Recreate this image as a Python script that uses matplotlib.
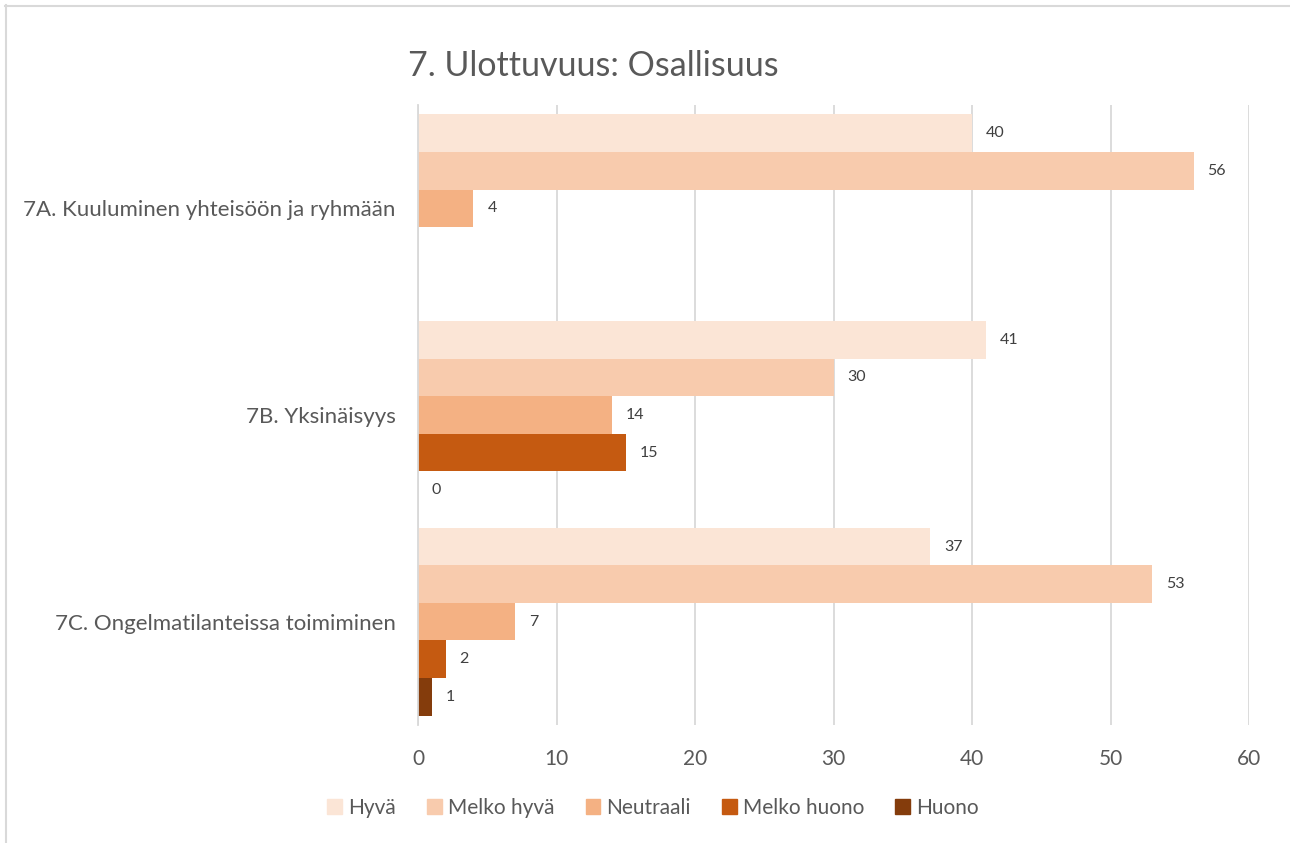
import matplotlib
matplotlib.use("Agg")
import matplotlib.pyplot as plt
from matplotlib.lines import Line2D
import numpy as np

categories = ["7A. Kuuluminen yhteisöön ja ryhmään", "7B. Yksinäisyys", "7C. Ongelmatilanteissa toimiminen"]
series_names = ["Hyvä", "Melko hyvä", "Neutraali", "Melko huono", "Huono"]
hyva = [40, 41, 37]
melko_hyva = [56, 30, 53]
neutraali = [4, 14, 7]
melko_huono = [None, 15, 2]
huono = [None, 0, 1]
series_values = [hyva, melko_hyva, neutraali, melko_huono, huono]
colors = ["#FBE5D6", "#F8CBAD", "#F4B183", "#C55A11", "#843C0C"]
xticks = [0, 10, 20, 30, 40, 50, 60]

plt.rcParams['font.family'] = ['Lato', 'DejaVu Sans']
txt = "#595959"

fig = plt.figure(figsize=(12.9, 8.43), dpi=100)
ax = fig.add_axes([418/1290, 1 - 725/843, (1249-418)/1290, (725-105)/843])

n = len(series_names)
h = 1 / (n + 0.5)
y = np.arange(len(categories))
for j, (name, vals, c) in enumerate(zip(series_names, series_values, colors)):
    for i, v in enumerate(vals):
        if v is None:
            continue
        yy = y[i] + (j - (n - 1) / 2) * h
        ax.barh(yy, v, height=h, color=c, edgecolor='none', zorder=2)
        ax.annotate(str(v), (v, yy), xytext=(14, 0), textcoords='offset pixels',
                    va='center', ha='left', fontsize=11.5, color="#404040")

ax.set_ylim(len(categories) - 0.5, -0.5)
ax.set_xlim(0, 60)
ax.set_xticks(xticks)
ax.set_xticklabels([str(t) for t in xticks], fontsize=15, color=txt)
ax.set_yticks(y)
ax.set_yticklabels(categories, fontsize=16, color=txt)
ax.tick_params(axis='both', length=0)
ax.tick_params(axis='x', pad=17)
ax.tick_params(axis='y', pad=16)
ax.grid(axis='x', color='#D9D9D9', linewidth=1.3, zorder=0)
ax.set_axisbelow(True)
for s in ['top', 'right', 'bottom']:
    ax.spines[s].set_visible(False)
ax.spines['left'].set_color('#D9D9D9')
ax.spines['left'].set_linewidth(1.3)

fig.text(593/1290, 1 - 66/843, "7. Ulottuvuus: Osallisuus", ha='center', va='center',
         fontsize=24.5, color=txt)

handles = [plt.Rectangle((0, 0), 1, 1, color=c) for c in colors]
fig.legend(handles, series_names, loc='center', bbox_to_anchor=(653/1290, 1 - 808/843),
           ncol=5, frameon=False, fontsize=15, labelcolor=txt, handlelength=0.7,
           handleheight=0.7, handletextpad=0.3, columnspacing=1.5)

# chart border (top & left visible)
fig.add_artist(Line2D([5/1290, 1], [1 - 5.5/843, 1 - 5.5/843], transform=fig.transFigure,
                      color='#D9D9D9', linewidth=1.5))
fig.add_artist(Line2D([5.5/1290, 5.5/1290], [0, 1 - 5/843], transform=fig.transFigure,
                      color='#D9D9D9', linewidth=1.5))

fig.savefig("out.png", dpi=100, facecolor='white')
